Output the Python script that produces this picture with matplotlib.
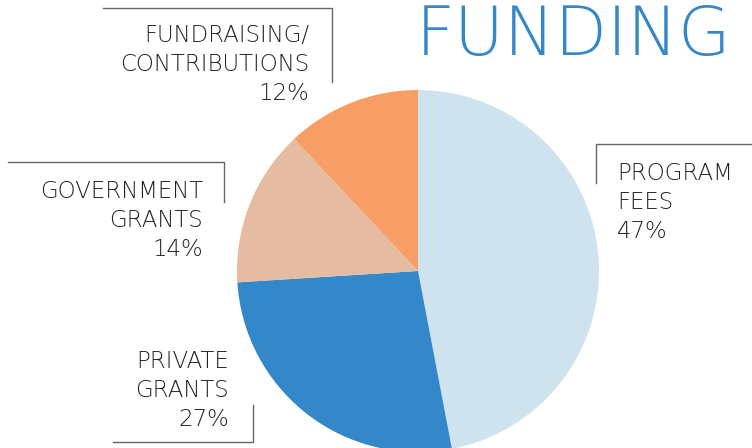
import matplotlib.pyplot as plt

# data
categories = ["PROGRAM\nFEES", "PRIVATE\nGRANTS", "GOVERNMENT\nGRANTS", "FUNDRAISING/\nCONTRIBUTIONS"]
shares = [47, 27, 14, 12]
colors = ["#cfe3ef", "#3487c9", "#e5bca2", "#f79d66"]

W, H = 752, 448
fig = plt.figure(figsize=(W / 100, H / 100), dpi=100)
ax = fig.add_axes([0, 0, 1, 1])

cx, cy, r = 418, H - 271, 181
ax.pie(shares, colors=colors, startangle=90, counterclock=False,
       center=(cx, cy), radius=r, frame=True,
       wedgeprops=dict(linewidth=0))
ax.set_xlim(0, W)
ax.set_ylim(0, H)
ax.set_aspect("equal")
ax.axis("off")


def py(y):
    # pixel row -> axes y
    return H - y


txt = dict(fontsize=16.5, color="#222222", family="DejaVu Sans",
           fontweight="light", linespacing=1.32)
line = dict(color="#666666", lw=1.0)

# label layout: (text x, text top y, align, bracket corners)
layout = [
    (617, 162, "left", [(752, 144), (596, 144), (596, 183)]),
    (229, 350, "right", [(253, 405), (253, 442), (113, 442)]),
    (203, 180, "right", [(8, 162), (224, 162), (224, 202)]),
    (309, 24, "right", [(103, 8), (332, 8), (332, 82)]),
]

for cat, val, (tx, ty, ha, pts) in zip(categories, shares, layout):
    ax.text(tx, py(ty), f"{cat}\n{val}%", ha=ha, va="top", ma=ha, **txt)
    xs = [p[0] for p in pts]
    ys = [py(p[1]) for p in pts]
    ax.plot(xs, ys, **line)

ax.text(416, py(55), "FUNDING", fontsize=49, color="#3487c9",
        family="DejaVu Sans", fontweight="light", ha="left", va="baseline")

fig.savefig("out.png", dpi=100)
